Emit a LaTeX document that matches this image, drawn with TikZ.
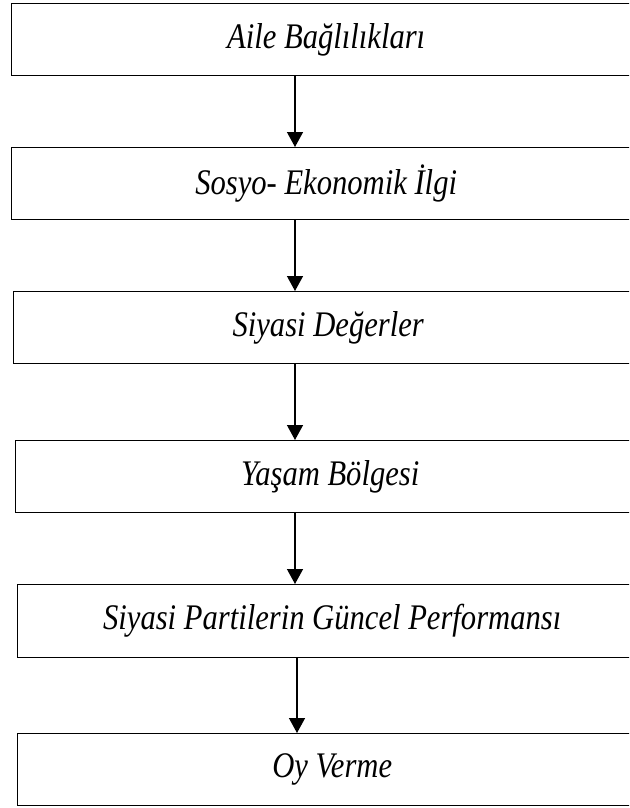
\documentclass[tikz,border=0pt]{standalone}
\usepackage{fontspec}
\setmainfont{Liberation Serif}[FakeStretch=0.85]
\usetikzlibrary{arrows.meta}
\begin{document}
\begin{tikzpicture}[x=1pt,y=-1pt,
  stage/.style={draw, line width=1.4pt, anchor=north west, inner sep=0pt,
    minimum width=629pt, minimum height=72pt,
    font=\fontsize{36}{42}\selectfont\itshape},
  flow/.style={line width=1.4pt, -{Triangle[width=16pt,length=15pt]}}]
\useasboundingbox (0,0) rectangle (629,808);
\clip (0,0) rectangle (629,808);
\fill[white] (0,0) rectangle (629,808);

% stages of the chain, top to bottom
\node[stage] (aile)   at (11,3)   {Aile Bağlılıkları};
\node[stage] (sosyo)  at (11,147) {Sosyo- Ekonomik İlgi};
\node[stage] (deger)  at (13,291) {Siyasi Değerler};
\node[stage] (bolge)  at (15,440) {Yaşam Bölgesi};
\node[stage, minimum height=73pt] (parti)  at (17,584) {Siyasi Partilerin Güncel Performansı};
\node[stage] (oy)     at (17,733) {Oy Verme};

% vertical positions of the connectors
\coordinate (ca) at (295,0);
\coordinate (cb) at (297,0);

\draw[flow] (aile.south  -| ca) -- (sosyo.north -| ca);
\draw[flow] (sosyo.south -| ca) -- (deger.north -| ca);
\draw[flow] (deger.south -| ca) -- (bolge.north -| ca);
\draw[flow] (bolge.south -| ca) -- (parti.north -| ca);
\draw[flow] (parti.south -| cb) -- (oy.north    -| cb);
\end{tikzpicture}
\end{document}
